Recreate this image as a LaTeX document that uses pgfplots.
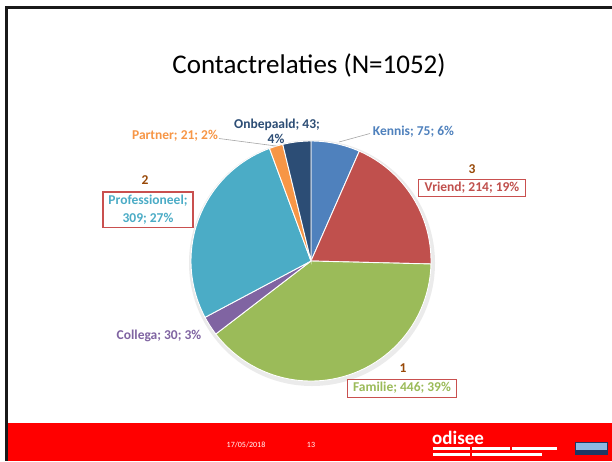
\documentclass[border=0pt]{standalone}
\usepackage{pgfplots}
\pgfplotsset{compat=1.18}
\usepackage{pgfplotstable}
\usepackage{fontspec}
\setmainfont{Carlito}
\definecolor{ckennis}{HTML}{4F81BD}
\definecolor{cvriend}{HTML}{C0504D}
\definecolor{cfamilie}{HTML}{9BBB59}
\definecolor{ccollega}{HTML}{8064A2}
\definecolor{cprof}{HTML}{4BACC6}
\definecolor{cpartner}{HTML}{F79646}
\definecolor{conbep}{HTML}{2C4D75}
\definecolor{cnum}{HTML}{984807}
\definecolor{cbox}{HTML}{C9504F}
\definecolor{cfoot}{HTML}{FF0000}
\definecolor{cleader}{HTML}{A6A6A6}
\definecolor{cbadgedark}{HTML}{1F3864}
\definecolor{cbadgelight}{HTML}{8DB8E2}
\pgfplotstableread{
name value
Kennis 75
Vriend 214
Familie 446
Collega 30
Professioneel 309
Partner 21
Onbepaald 43
}\pietable
\newcommand\lbl{\fontsize{13.5}{18}\selectfont\bfseries}
\newcommand\slice[2]{%
  \fill[#2, draw=white, line width=0.9pt] (axis cs:311,261) -- ++(\csname pieS#1\endcsname:120pt)
    arc[start angle=\csname pieS#1\endcsname, end angle=\csname pieE#1\endcsname, radius=120pt] -- cycle;}
\begin{document}
\begin{tikzpicture}
% cumulative angles from the data table
\gdef\pietotal{0}
\foreach \i in {0,...,6}{%
  \pgfplotstablegetelem{\i}{value}\of\pietable
  \pgfmathsetmacro\t{\pietotal+\pgfplotsretval}%
  \global\let\pietotal\t}
\gdef\piecum{0}
\foreach \i in {0,...,6}{%
  \pgfplotstablegetelem{\i}{value}\of\pietable
  \pgfmathsetmacro\s{90-360*(\piecum/\pietotal)}%
  \pgfmathsetmacro\nc{\piecum+\pgfplotsretval}%
  \pgfmathsetmacro\e{90-360*(\nc/\pietotal)}%
  \expandafter\xdef\csname pieS\i\endcsname{\s}%
  \expandafter\xdef\csname pieE\i\endcsname{\e}%
  \global\let\piecum\nc}
\begin{axis}[at={(0,0)}, anchor=south west, width=612pt, height=461pt, scale only axis,
  xmin=0, xmax=612, ymin=0, ymax=461, y dir=reverse, hide axis, clip=false]
\fill[white] (axis cs:0,0) rectangle (axis cs:612,461);
% frame
\fill[black!90] (axis cs:5,6) rectangle (axis cs:612,9);
\fill[black!90] (axis cs:5,6) rectangle (axis cs:7.5,461);
% footer
\fill[cfoot] (axis cs:7.5,423) rectangle (axis cs:612,461);
\node[white, font=\fontsize{8}{9}\selectfont, anchor=base] at (axis cs:246,447) {17/05/2018};
\node[white, font=\fontsize{8}{9}\selectfont, anchor=base] at (axis cs:311,447) {13};
\node[white, font=\fontsize{19}{20}\selectfont\bfseries, anchor=base west, inner sep=0pt] at (axis cs:432,444) {odisee};
\fill[white] (axis cs:433,446.5) rectangle (axis cs:470,449.5);
\fill[white] (axis cs:472,446.5) rectangle (axis cs:510,449.5);
\fill[white] (axis cs:512,446.5) rectangle (axis cs:557,449.5);
\fill[white] (axis cs:433,452.5) rectangle (axis cs:470,455.5);
\fill[white] (axis cs:472,452.5) rectangle (axis cs:542,455.5);
\fill[cbadgedark] (axis cs:575,442) rectangle (axis cs:608,455);
\fill[cbadgelight] (axis cs:576,442.5) rectangle (axis cs:607,449.5);
% title
\node[anchor=base, font=\fontsize{27}{32}\selectfont] at (axis cs:309,73) {Contactrelaties (N=1052)};
% pie shadow
\fill[black, opacity=0.08] (axis cs:312,263) circle[radius=123pt];
\slice{0}{ckennis}
\slice{1}{cvriend}
\slice{2}{cfamilie}
\slice{3}{ccollega}
\slice{4}{cprof}
\slice{5}{cpartner}
\slice{6}{conbep}
% leader lines
\draw[cleader, line width=0.6pt] (axis cs:370,133.5) -- (axis cs:339,142);
\draw[cleader, line width=0.6pt] (axis cs:219,138.5) -- (axis cs:276,146);
% labels
\node[ckennis, font=\lbl, anchor=base] at (axis cs:413.5,135.5) {Kennis; 75; 6\%};
\node[cnum, font=\lbl, anchor=base] at (axis cs:472,173.3) {3};
\node[cvriend, font=\lbl, draw=cbox, line width=1.3pt, fill=white, text height=9pt, text depth=2.5pt, inner xsep=6.5pt, inner ysep=2.6pt] at (axis cs:472,188) {Vriend; 214; 19\%};
\node[cnum, font=\lbl, anchor=base] at (axis cs:403,372.5) {1};
\node[cfamilie, font=\lbl, draw=cbox, line width=1.3pt, fill=white, text height=9pt, text depth=2.5pt, inner xsep=5.5pt, inner ysep=3pt] at (axis cs:402,388.5) {Familie; 446; 39\%};
\node[ccollega, font=\lbl, anchor=base] at (axis cs:159,339) {Collega; 30; 3\%};
\node[cnum, font=\lbl, anchor=base] at (axis cs:145,184) {2};
\node[cprof, font=\lbl, draw=cbox, line width=1.3pt, fill=white, align=center, inner xsep=5.5pt, inner ysep=3pt] at (axis cs:148,209.5) {Professioneel;\\309; 27\%};
\node[cpartner, font=\lbl, anchor=base] at (axis cs:175,139.3) {Partner; 21; 2\%};
\node[conbep, font=\lbl, anchor=base] at (axis cs:277,128.3) {Onbepaald; 43;};
\node[conbep, font=\lbl, anchor=base] at (axis cs:276,143.3) {4\%};
\end{axis}
\end{tikzpicture}
\end{document}
